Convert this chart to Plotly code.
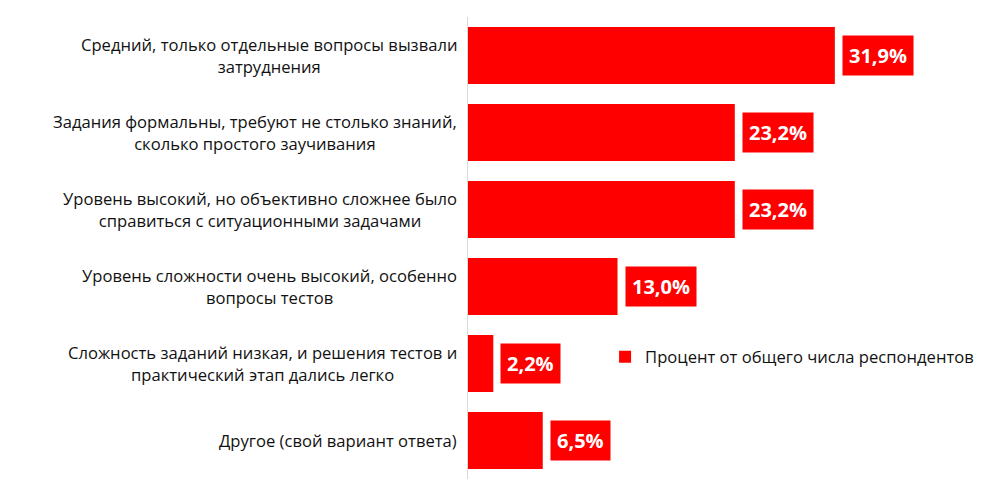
import plotly.graph_objects as go

categories = [
    "Средний, только отдельные вопросы вызвали<br>затруднения",
    "Задания формальны, требуют не столько знаний,<br>сколько простого заучивания",
    "Уровень высокий, но объективно сложнее было<br>справиться с ситуационными задачами",
    "Уровень сложности очень высокий, особенно<br>вопросы тестов",
    "Сложность заданий низкая, и решения тестов и<br>практический этап дались легко",
    "Другое (свой вариант ответа)",
]
values = [31.9, 23.2, 23.2, 13.0, 2.2, 6.5]
value_labels = ["31,9%", "23,2%", "23,2%", "13,0%", "2,2%", "6,5%"]
series_name = "Процент от общего числа респондентов"

RED = "#FF0000"
FONT = "Open Sans"

fig = go.Figure()
fig.add_trace(go.Bar(
    y=list(range(len(categories))),
    x=values,
    orientation="h",
    marker=dict(color=RED, line=dict(width=0)),
    name=series_name,
    showlegend=True,
    hoverinfo="x",
))

annotations = []
for i, (cat, v, lab) in enumerate(zip(categories, values, value_labels)):
    annotations.append(dict(
        x=0, y=i, xref="paper", yref="y", text=cat, showarrow=False,
        xanchor="right", yanchor="middle", align="center", xshift=-9,
        font=dict(family=FONT, size=16.6, color="#111111"),
    ))
    annotations.append(dict(
        x=v, y=i, xref="x", yref="y", text="<b>" + lab + "</b>", showarrow=False,
        xanchor="left", yanchor="middle", xshift=7,
        bgcolor=RED, borderpad=6,
        font=dict(family=FONT, size=20, color="white"),
    ))

# page body has an 8px default margin; compensate in the figure margins
fig.update_layout(
    width=1000, height=502,
    paper_bgcolor="white", plot_bgcolor="white",
    margin=dict(l=460, r=80, t=9, b=31, autoexpand=False),
    bargap=0.26,
    xaxis=dict(range=[0, 40], visible=False, fixedrange=True),
    yaxis=dict(range=[5.5, -0.5], showticklabels=False, showgrid=False,
               zeroline=False, showline=True, linecolor="#D9D9D9", linewidth=1,
               ticks=""),
    legend=dict(x=0.298, y=0.264, xanchor="left", yanchor="middle",
                font=dict(family=FONT, size=16.6, color="#111111"),
                bgcolor="rgba(0,0,0,0)", itemwidth=30),
    annotations=annotations,
    font=dict(family=FONT),
)

fig.write_html("out.html")
